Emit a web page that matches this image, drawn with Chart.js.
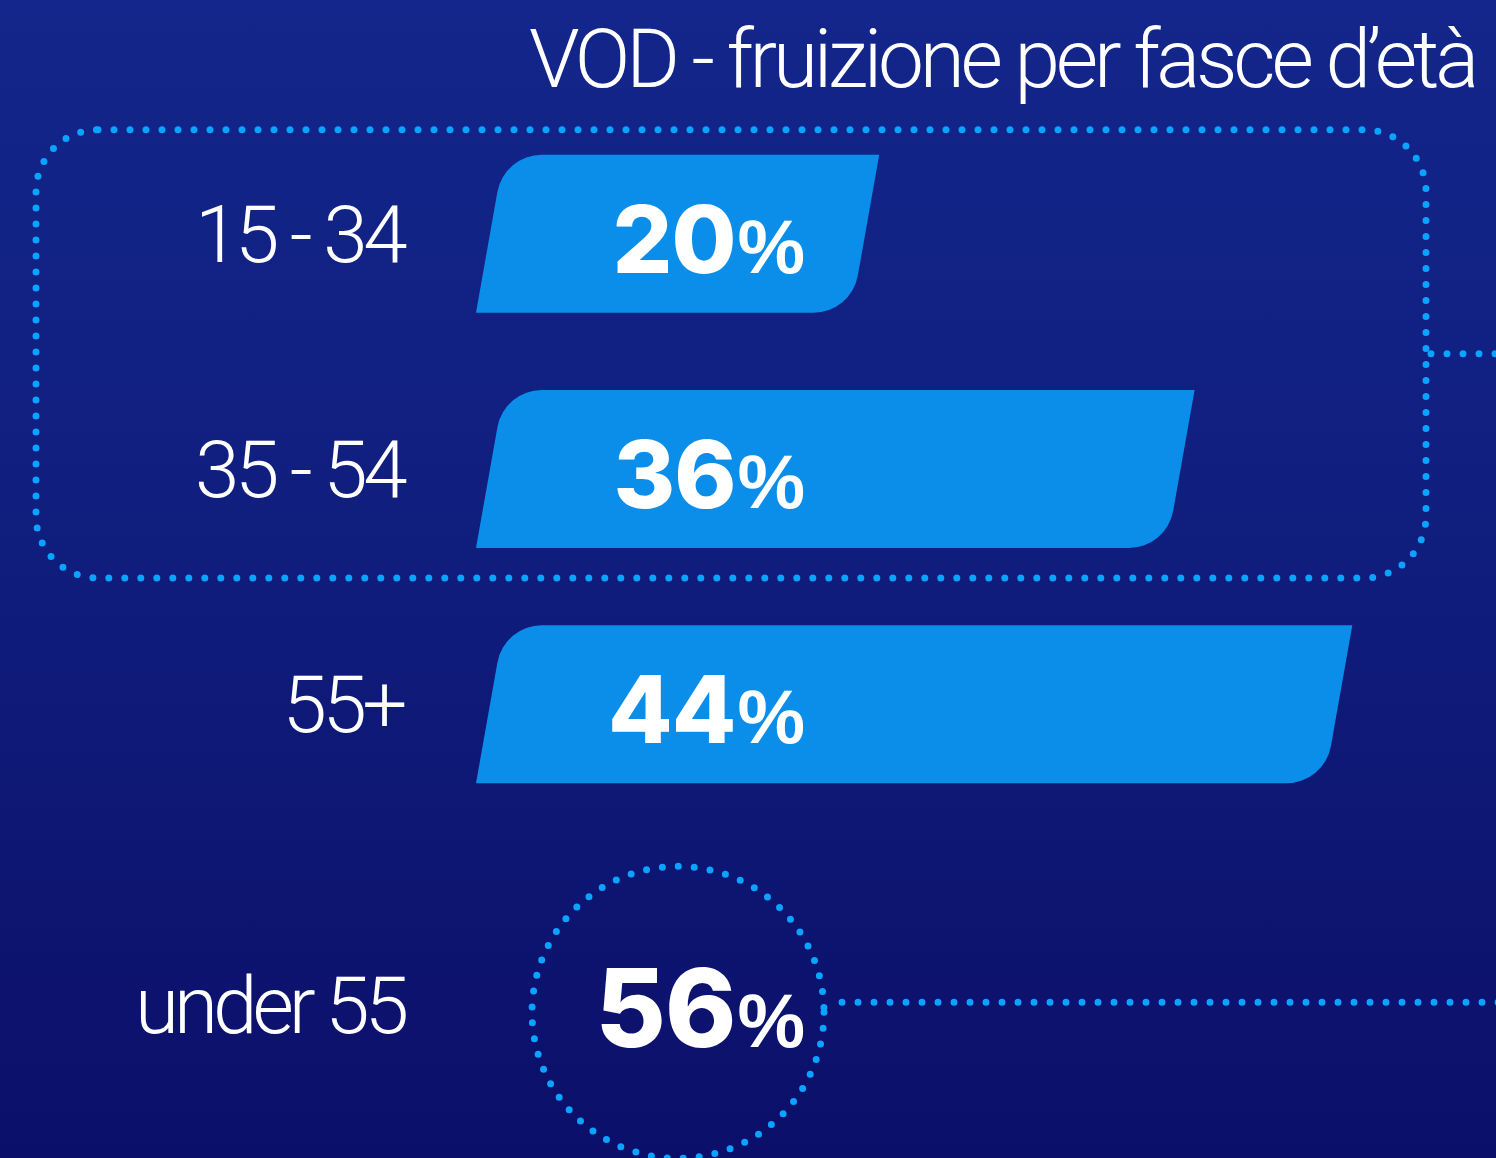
<!DOCTYPE html>
<html>
<head>
<meta charset="utf-8">
<script src="https://cdn.jsdelivr.net/npm/chart.js@4.4.1/dist/chart.umd.min.js"></script>
<style>
    html, body { margin: 0; padding: 0; }
    body { width: 1496px; height: 1158px; overflow: hidden; }
    .vod-wrap {
        position: relative;
        width: 1496px;
        height: 1158px;
        background: linear-gradient(180deg, #13268b 0%, #101e7e 45%, #0b0f69 100%);
    }
</style>
</head>
<body>
<div class="vod-wrap">
    <canvas id="vodAgeChart" width="1496" height="1158"></canvas>
</div>
<script>
const chartTitle = 'VOD - fruizione per fasce d’età';
const ageBands = ['15 - 34', '35 - 54', '55+'];
const vodShare = [20, 36, 44];
const groupedBands = ['15 - 34', '35 - 54'];
const under55Label = 'under 55';
const under55Share = 56;
const shareAxisMax = 52;

const barBlue = '#0b8ee9';
const dotBlue = '#0aa3ff';
const lightFont = "Roboto, 'Liberation Sans', sans-serif";
const boldFont = "Inter, 'Liberation Sans', sans-serif";
const pctFont = "'Liberation Sans', Arial, sans-serif";

function dotted(ctx) {
    ctx.strokeStyle = dotBlue;
    ctx.lineWidth = 7;
    ctx.lineCap = 'round';
    ctx.setLineDash([0, 16]);
}

function drawShare(ctx, value, xRight, baseline, numSize) {
    ctx.letterSpacing = '0px';
    ctx.fillStyle = '#ffffff';
    ctx.textAlign = 'right';
    ctx.textBaseline = 'alphabetic';
    ctx.font = `bold 76px ${pctFont}`;
    const pctWidth = ctx.measureText('%').width;
    ctx.fillText('%', xRight, baseline);
    ctx.letterSpacing = '-1px';
    ctx.font = `800 ${numSize}px ${boldFont}`;
    ctx.fillText(String(value), xRight - pctWidth - 2, baseline);
}

const vodDecor = {
    id: 'vodDecor',
    beforeDraw(chart) {
        chart.ctx.letterSpacing = '-4.5px';
    },
    afterDatasetsDraw(chart) {
        const ctx = chart.ctx;
        const area = chart.chartArea;
        const bars = chart.getDatasetMeta(0).data;
        const slant = 14;
        const inset = 19;
        const radius = 45;
        const valueRight = area.left + 334;

        ctx.save();
        // slanted bars with two rounded corners
        bars.forEach((bar, i) => {
            const { x, y, base, height } = bar.getProps(['x', 'y', 'base', 'height'], true);
            const top = y - height / 2;
            const bottom = y + height / 2;
            const left = base + inset;
            ctx.beginPath();
            ctx.moveTo(x + slant, top);
            ctx.arcTo(x - slant, bottom, left - slant, bottom, radius);
            ctx.lineTo(left - slant, bottom);
            ctx.arcTo(left + slant, top, x + slant, top, radius);
            ctx.closePath();
            ctx.fillStyle = barBlue;
            ctx.fill();
            drawShare(ctx, vodShare[i], valueRight, y + 39, 94);
        });

        // dotted frame around the under-55 bands
        const firstBar = bars[ageBands.indexOf(groupedBands[0])];
        const lastBar = bars[ageBands.indexOf(groupedBands[groupedBands.length - 1])];
        const frameTop = firstBar.y - firstBar.height / 2 - 25;
        const frameBottom = lastBar.y + lastBar.height / 2 + 30;
        const frameLeft = 36;
        const frameRight = area.right - 70;
        dotted(ctx);
        ctx.beginPath();
        ctx.roundRect(frameLeft, frameTop, frameRight - frameLeft, frameBottom - frameTop, 62);
        ctx.stroke();
        const midY = (frameTop + frameBottom) / 2;
        ctx.beginPath();
        ctx.moveTo(frameRight + 5, midY);
        ctx.lineTo(chart.width + 8, midY);
        ctx.stroke();

        // under 55 summary row
        const rowY = bars[bars.length - 1].y;
        const cx = valueRight - 127;
        const cy = rowY + 308;
        ctx.beginPath();
        ctx.arc(cx, cy, 146, 0, Math.PI * 2);
        ctx.stroke();
        ctx.beginPath();
        ctx.moveTo(cx + 164, rowY + 298);
        ctx.lineTo(chart.width + 8, rowY + 298);
        ctx.stroke();
        ctx.setLineDash([]);

        drawShare(ctx, under55Share, valueRight, rowY + 343, 108);

        ctx.letterSpacing = '-5px';
        ctx.font = `300 80px ${lightFont}`;
        ctx.fillStyle = '#ffffff';
        ctx.textAlign = 'right';
        ctx.fillText(under55Label, area.left - 67, rowY + 329);

        // title
        ctx.letterSpacing = '-4.2px';
        ctx.font = `300 82px ${lightFont}`;
        ctx.fillText(chartTitle, 1475, 87);
        ctx.restore();
    },
};

new Chart(document.getElementById('vodAgeChart'), {
    type: 'bar',
    data: {
        labels: ageBands,
        datasets: [
            {
                data: vodShare,
                backgroundColor: 'rgba(0, 0, 0, 0)',
                borderWidth: 0,
                barThickness: 158,
            },
        ],
    },
    options: {
        indexAxis: 'y',
        responsive: false,
        animation: false,
        layout: { padding: { top: 114, bottom: 336, left: 0, right: 0 } },
        plugins: {
            legend: { display: false },
            tooltip: { enabled: false },
        },
        scales: {
            x: {
                display: false,
                min: 0,
                max: shareAxisMax,
            },
            y: {
                afterFit: (scale) => { scale.width = 471; },
                border: { display: false },
                grid: { display: false, drawTicks: false },
                ticks: {
                    color: '#ffffff',
                    padding: 68,
                    labelOffset: 8,
                    font: { family: lightFont, weight: 300, size: 80 },
                },
            },
        },
    },
    plugins: [vodDecor],
});
</script>
</body>
</html>
